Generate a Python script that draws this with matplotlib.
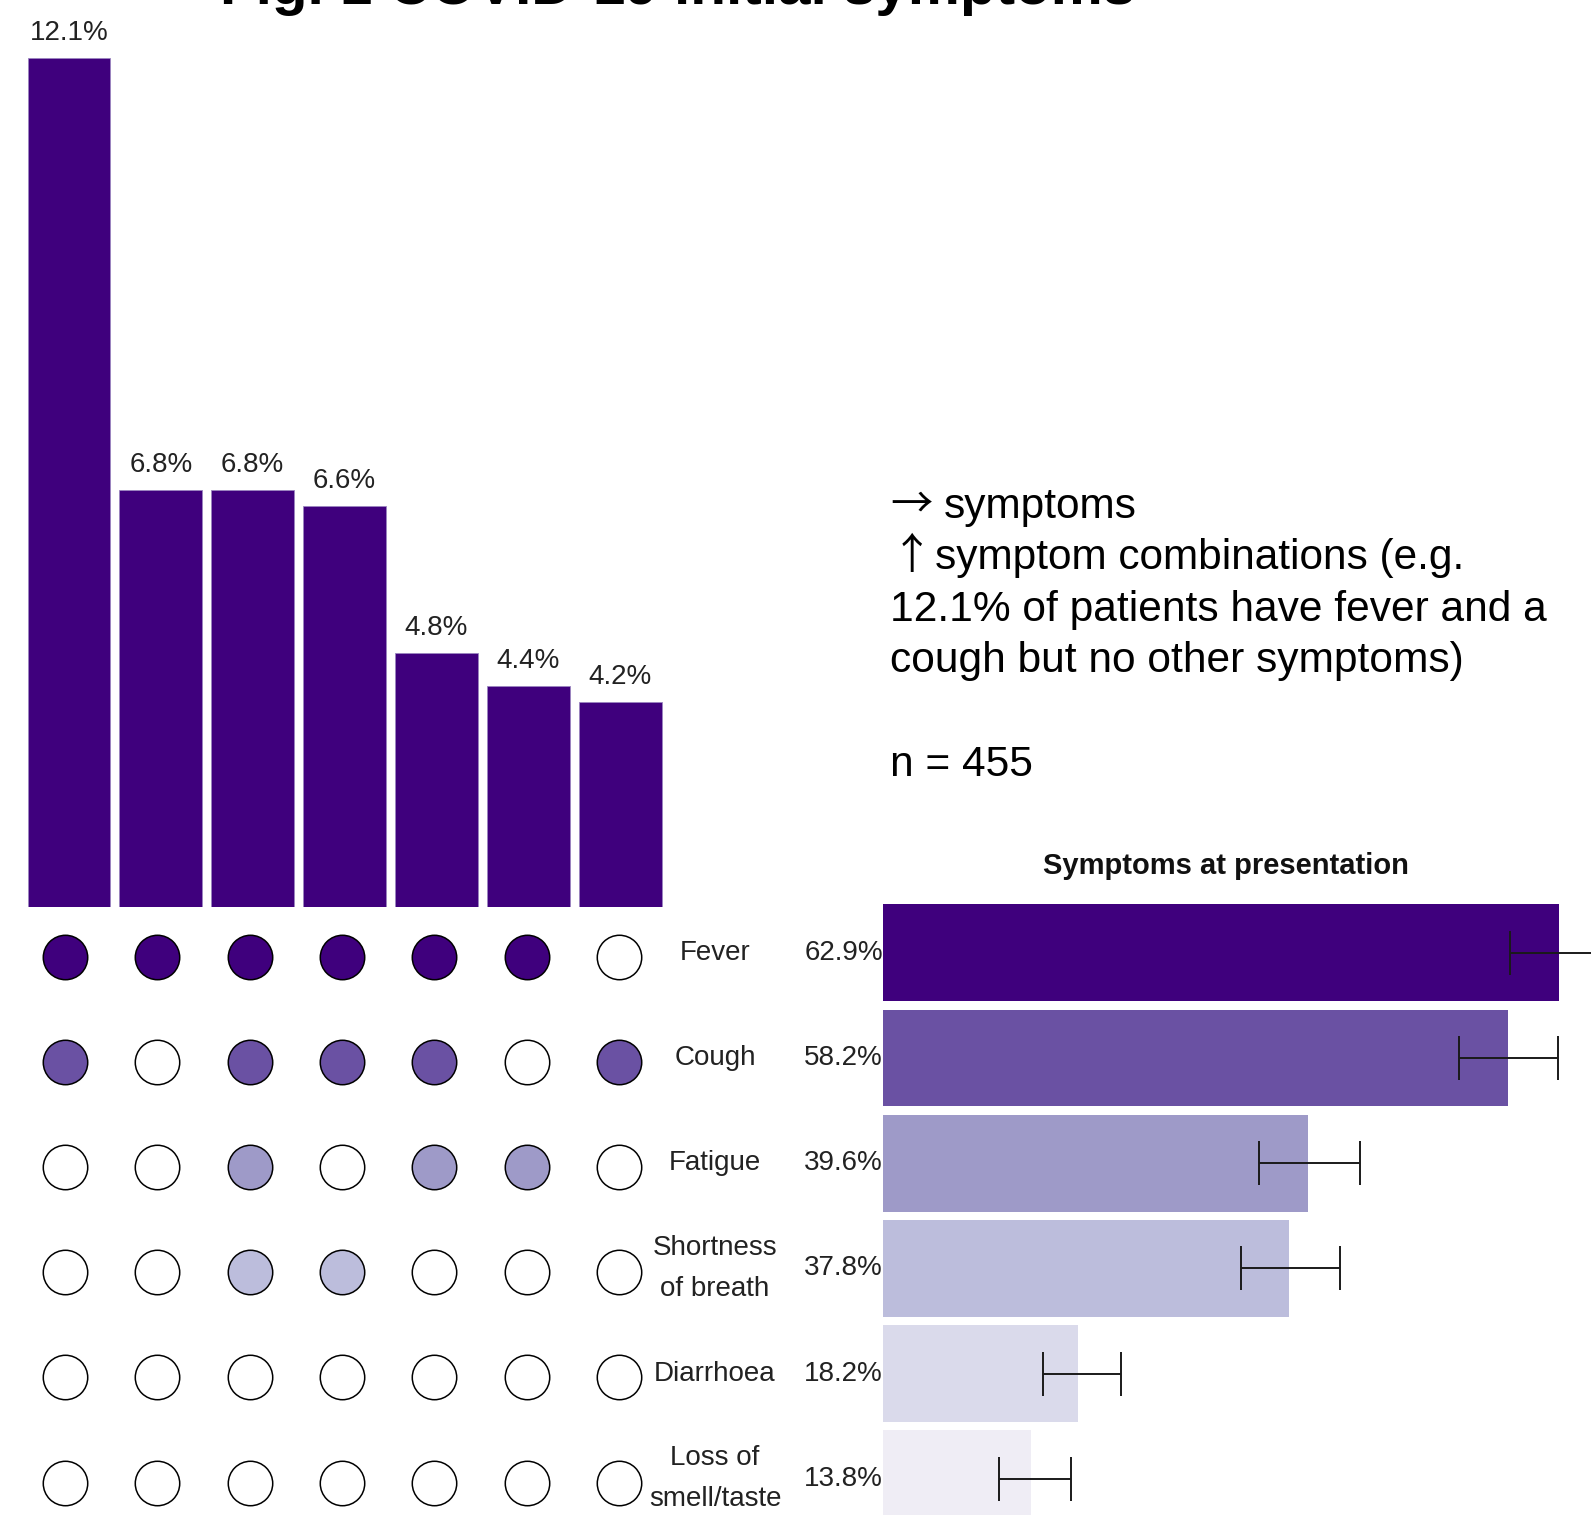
import matplotlib
matplotlib.use("Agg")
import matplotlib.pyplot as plt
import matplotlib.transforms as mtrans

# ---------------- data ----------------
combo_pct = [12.1, 6.8, 6.8, 6.6, 4.8, 4.4, 4.2]
symptoms = ["Fever", "Cough", "Fatigue", "Shortness\nof breath", "Diarrhoea", "Loss of\nsmell/taste"]
symptom_pct = [62.9, 58.2, 39.6, 37.8, 18.2, 13.8]
ci_low = [58.3, 53.6, 35.0, 33.3, 14.9, 10.8]
ci_high = [67.3, 62.8, 44.4, 42.5, 22.2, 17.5]
# membership matrix: rows = symptoms, columns = combinations
fever_in = [1, 1, 1, 1, 1, 1, 0]
cough_in = [1, 0, 1, 1, 1, 0, 1]
fatigue_in = [0, 0, 1, 0, 1, 1, 0]
sob_in = [0, 0, 1, 1, 0, 0, 0]
diarrhoea_in = [0, 0, 0, 0, 0, 0, 0]
loss_in = [0, 0, 0, 0, 0, 0, 0]
membership = [fever_in, cough_in, fatigue_in, sob_in, diarrhoea_in, loss_in]
palette = ["#3f007d", "#6a51a3", "#9e9ac8", "#bcbddc", "#dadaeb", "#efedf5"]
title = "Fig. 1 COVID-19 initial symptoms"
note_arrows = ["\u2192", "\u2191"]
note_arrow_text = ["symptoms", "symptom combinations (e.g."]
note_lines = ["12.1% of patients have fever and a",
              "cough but no other symptoms)",
              "n = 455"]

FAM = ["Liberation Sans", "DejaVu Sans"]
ARROW_FAM = ["Noto Sans CJK SC", "DejaVu Sans"]
plt.rcParams["font.family"] = FAM

W, H = 1591, 1515
fig = plt.figure(figsize=(W / 100, H / 100), dpi=100)


def rect(l, t, r, b):
    return [l / W, 1 - b / H, (r - l) / W, (b - t) / H]


# ---------------- combination bars ----------------
ax_top = fig.add_axes(rect(23, 0, 666.3, 907.1))
xs = list(range(len(combo_pct)))
ax_top.bar(xs, combo_pct, width=0.9, color=palette[0], edgecolor="#9b86c0",
           linewidth=0.6, bottom=0)
for x, v in zip(xs, combo_pct):
    ax_top.annotate(f"{v:.1f}%", (x, v), xytext=(0, 18), textcoords="offset points",
                    ha="center", va="center", fontsize=20, color="#222222",
                    annotation_clip=False)
ax_top.set_xlim(-0.5, 6.5)
ax_top.set_ylim(1.688, 12.81)
ax_top.axis("off")

# ---------------- dot matrix ----------------
ax_dot = fig.add_axes(rect(18.7, 904.3, 665.2, 1535.1))
for r, row in enumerate(membership):
    for c, m in enumerate(row):
        ax_dot.scatter(c, r, s=32 ** 2, color=palette[r] if m else "white",
                       edgecolor="black", linewidth=1.1, zorder=3, clip_on=False)
ax_dot.set_xlim(-0.5, 6.5)
ax_dot.set_ylim(5.5, -0.5)
ax_dot.axis("off")

# ---------------- symptom bars ----------------
ax_r = fig.add_axes(rect(882.8, 900.2, 1591, 1531.5))
ys = list(range(len(symptom_pct)))
ax_r.barh(ys, symptom_pct, height=0.92, color=palette, edgecolor="none")
err_lo = [p - l for p, l in zip(symptom_pct, ci_low)]
err_hi = [h - p for p, h in zip(symptom_pct, ci_high)]
ax_r.errorbar(symptom_pct, ys, xerr=[err_lo, err_hi], fmt="none", ecolor="#1a1a1a",
              elinewidth=1.4, capsize=15.8, capthick=1.4, zorder=4)
ax_r.set_xlim(0, 65.88)
ax_r.set_ylim(5.5, -0.5)
ax_r.axis("off")

trans = mtrans.blended_transform_factory(fig.transFigure, ax_r.transData)
for y, name, v in zip(ys, symptoms, symptom_pct):
    fig.text(715 / W, y, name, transform=trans, ha="center", va="center",
             fontsize=20, color="#222222", linespacing=1.75)
    fig.text(883 / W, y, f"{v:.1f}%", transform=trans, ha="right", va="center",
             fontsize=20, color="#222222")

fig.text(1226 / W, 1 - 866 / H, "Symptoms at presentation", ha="center", va="center",
         fontsize=21, fontweight="bold", color="#111111")

# ---------------- annotation text ----------------
fig.text(890 / W, 1 - 517.5 / H, note_arrows[0], ha="left", va="baseline",
         fontsize=30.5, family=ARROW_FAM, color="black")
fig.text(944 / W, 1 - 517.5 / H, note_arrow_text[0], ha="left", va="baseline",
         fontsize=30.5, color="black")
fig.text(912 / W, 1 - 569 / H, note_arrows[1], ha="center", va="baseline",
         fontsize=30.5, family=ARROW_FAM, color="black")
fig.text(935 / W, 1 - 569 / H, note_arrow_text[1], ha="left", va="baseline",
         fontsize=30.5, color="black")
baselines = [621, 672, 776]
for line, yb in zip(note_lines, baselines):
    fig.text(890 / W, 1 - yb / H, line, ha="left", va="baseline", fontsize=30.6,
             color="black")

# ---------------- title (cut off at top) ----------------
fig.text(678 / W, 1 - 4 / H, title, ha="center", va="baseline", fontsize=42,
         fontweight="bold", color="black")

fig.savefig("out.png", dpi=100, facecolor="white")
